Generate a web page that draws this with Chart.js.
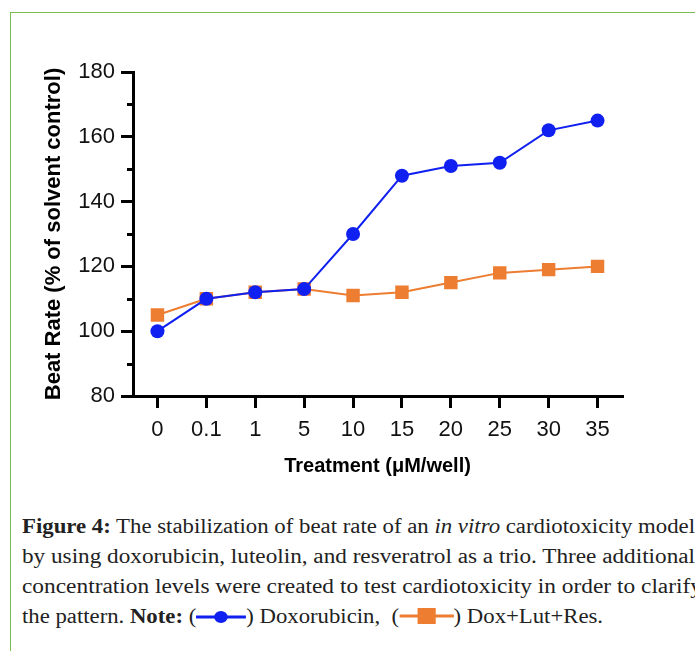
<!DOCTYPE html>
<html>
<head>
<meta charset="utf-8">
<script src="https://cdn.jsdelivr.net/npm/chart.js@4.4.0/dist/chart.umd.min.js"></script>
<style>
  html, body { margin: 0; padding: 0; background: #fff; }
  body { width: 695px; height: 651px; position: relative; overflow: hidden; }
  #frame { position: absolute; left: 10px; top: 12px; width: 700px; height: 700px;
           border-left: 1px solid #7cbb52; border-top: 1px solid #7cbb52; }
  #wrap { position: absolute; left: 0; top: 0; width: 695px; height: 480px; }
  .cap { position: absolute; left: 22px; white-space: nowrap; font-family: "Liberation Serif", serif;
         font-size: 20px; line-height: 30px; color: #222; transform-origin: 0 0; }
  .cap b { font-weight: bold; }
  .mk { display: inline-block; vertical-align: -2px; }
</style>
</head>
<body>
<div id="frame"></div>
<div id="wrap"><canvas id="c" width="695" height="480"></canvas></div>
<div class="cap" id="l1" style="top:511px"><b>Figure 4:</b> The stabilization of beat rate of an <i>in vitro</i> cardiotoxicity model</div>
<div class="cap" id="l2" style="top:541px">by using doxorubicin, luteolin, and resveratrol as a trio. Three additional</div>
<div class="cap" id="l3" style="top:571px">concentration levels were created to test cardiotoxicity in order to clarify</div>
<div class="cap" id="l4" style="top:601px">the pattern. <b>Note:</b> (<svg class="mk" width="44" height="16"><line x1="0" y1="8" x2="44" y2="8" stroke="#1020f0" stroke-width="3"/><circle cx="22" cy="8" r="6" fill="#1020f0"/></svg>) Doxorubicin,&nbsp; (<svg class="mk" width="48" height="18"><line x1="0" y1="9" x2="48" y2="9" stroke="#ed7d31" stroke-width="3"/><rect x="16" y="1" width="16" height="16" fill="#ed7d31"/></svg>) Dox+Lut+Res.</div>
<script>
const categories = ['0', '0.1', '1', '5', '10', '15', '20', '25', '30', '35'];
const doxorubicin = [100, 110, 112, 113, 130, 148, 151, 152, 162, 165];
const doxLutRes = [105, 110, 112, 113, 111, 112, 115, 118, 119, 120];
const yMajorTicks = [80, 100, 120, 140, 160, 180];
const yMinorTicks = [90, 110, 130, 150, 170];

const minorTicks = {
  id: 'minorTicks',
  afterDraw(chart) {
    const y = chart.scales.y;
    const ctx = chart.ctx;
    ctx.save();
    ctx.strokeStyle = '#000';
    ctx.lineWidth = 3;
    yMinorTicks.forEach(v => {
      const py = Math.round(y.getPixelForValue(v)) + 0.5;
      ctx.beginPath();
      ctx.moveTo(y.right - 6, py);
      ctx.lineTo(y.right, py);
      ctx.stroke();
    });
    ctx.restore();
  }
};

new Chart(document.getElementById('c'), {
  type: 'line',
  data: {
    labels: categories,
    datasets: [
      { label: 'Doxorubicin', data: doxorubicin, borderColor: '#1020f0', backgroundColor: '#1020f0',
        borderWidth: 2, pointStyle: 'circle', pointRadius: 7, pointBorderWidth: 0, tension: 0 },
      { label: 'Dox+Lut+Res', data: doxLutRes, borderColor: '#ed7d31', backgroundColor: '#ed7d31',
        borderWidth: 2, pointStyle: 'rect', pointRadius: 9.5, pointBorderWidth: 0, tension: 0 }
    ]
  },
  options: {
    responsive: false,
    animation: false,
    events: [],
    layout: { padding: { left: 36, top: 72, right: 73, bottom: 0 } },
    plugins: { legend: { display: false }, tooltip: { enabled: false } },
    scales: {
      x: {
        type: 'category',
        offset: true,
        grid: { drawOnChartArea: false, color: '#000', lineWidth: 3, tickLength: 12 },
        border: { display: true, color: '#000', width: 3 },
        ticks: { color: '#111', font: { family: 'Liberation Sans', size: 22 }, padding: 9, maxRotation: 0, autoSkip: false },
        title: { display: true, text: 'Treatment (μM/well)', color: '#000',
                 font: { family: 'Liberation Sans', size: 20, weight: 'bold' }, padding: { top: 0, bottom: 2 } },
        afterFit(s) { s.height = 84; }
      },
      y: {
        min: 80, max: 180,
        afterBuildTicks(s) { s.ticks = yMajorTicks.map(v => ({ value: v })); },
        grid: { drawOnChartArea: false, color: '#000', lineWidth: 3, tickLength: 12 },
        border: { display: true, color: '#000', width: 3 },
        ticks: { color: '#111', font: { family: 'Liberation Sans', size: 22 }, padding: 6 },
        title: { display: true, text: 'Beat Rate (% of solvent control)', color: '#000',
                 font: { family: 'Liberation Sans', size: 22, weight: 'bold' }, padding: { top: 5, bottom: 0 } },
        afterFit(s) { s.width = 97; }
      }
    }
  },
  plugins: [minorTicks]
});

const targets = { l1: 673, l2: 673, l3: 680, l4: 581 };
Object.keys(targets).forEach(id => {
  const el = document.getElementById(id);
  const w = el.getBoundingClientRect().width;
  el.style.transform = 'scaleX(' + (targets[id] / w) + ')';
});
</script>
</body>
</html>
